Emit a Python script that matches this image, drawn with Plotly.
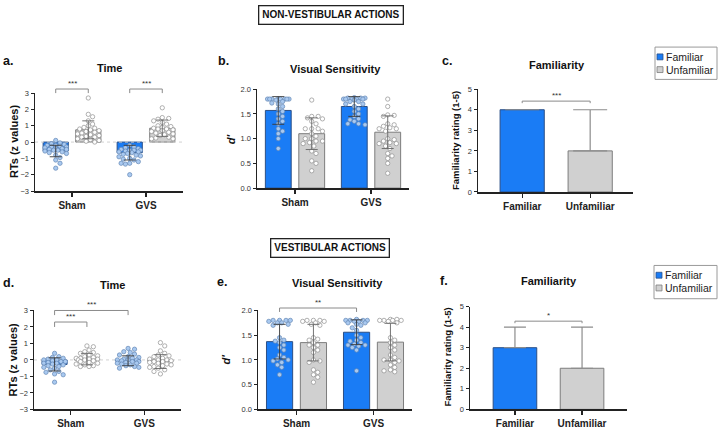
import plotly.graph_objects as go

W, H = 719, 432
FONT = "Arial, Liberation Sans, Helvetica, sans-serif"

conditions = ["Sham", "GVS"]
familiarity_groups = ["Familiar", "Unfamiliar"]

# ---------------- a. NON-VESTIBULAR - Time (RTs, z values) ----------------
a_fam_sham = [0.1, -0.05, -0.1, -0.15, -0.2, -0.2, -0.25, -0.3, -0.3, -0.35, -0.4, -0.4,
              -0.45, -0.45, -0.5, -0.5, -0.55, -0.6, -0.65, -0.7, -0.8, -0.95, -1.1, -1.3, -1.6]
a_unf_sham = [2.7, 1.7, 1.55, 1.3, 1.1, 1.0, 0.9, 0.85, 0.8, 0.75, 0.7, 0.65, 0.6, 0.55,
              0.5, 0.45, 0.4, 0.35, 0.3, 0.3, 0.2, 0.15, 0.1, 0.05, 0.0]
a_fam_gvs = [-0.2, -0.3, -0.35, -0.4, -0.45, -0.5, -0.5, -0.5, -0.55, -0.6, -0.6, -0.65,
             -0.7, -0.75, -0.8, -0.85, -0.9, -1.0, -1.05, -1.1, -1.2, -1.3, -1.3, -1.35, -2.0]
a_unf_gvs = [2.1, 1.5, 1.45, 1.4, 1.3, 1.2, 1.1, 1.0, 0.95, 0.9, 0.85, 0.8, 0.8, 0.75, 0.7,
             0.65, 0.6, 0.55, 0.5, 0.45, 0.4, 0.3, 0.25, 0.2, 0.2]
a_fam_mean = [-0.55, -0.65]
a_fam_sd = [0.35, 0.45]
a_unf_mean = [0.75, 0.85]
a_unf_sd = [0.55, 0.5]

# ---------------- b. NON-VESTIBULAR - Visual Sensitivity (d') ----------------
b_fam_sham = [1.8, 1.8, 1.8, 1.8, 1.8, 1.8, 1.8, 1.8, 1.78, 1.75, 1.72, 1.7, 1.65, 1.6,
              1.55, 1.5, 1.45, 1.4, 1.35, 1.3, 1.2, 1.15, 1.1, 1.0, 0.8]
b_unf_sham = [1.78, 1.45, 1.45, 1.42, 1.4, 1.35, 1.3, 1.2, 1.2, 1.2, 1.15, 1.1, 1.05, 1.0,
              1.0, 0.95, 0.95, 0.92, 0.9, 0.85, 0.75, 0.7, 0.55, 0.5, 0.35]
b_fam_gvs = [1.83, 1.82, 1.82, 1.82, 1.8, 1.8, 1.8, 1.8, 1.8, 1.78, 1.75, 1.75, 1.7, 1.7,
             1.65, 1.6, 1.55, 1.5, 1.45, 1.4, 1.38, 1.35, 1.3, 1.3, 1.28]
b_unf_gvs = [1.8, 1.65, 1.48, 1.47, 1.45, 1.3, 1.28, 1.25, 1.22, 1.2, 1.2, 1.15, 1.0, 0.98,
             0.95, 0.92, 0.9, 0.9, 0.85, 0.8, 0.7, 0.65, 0.6, 0.5, 0.3]
b_fam_mean = [1.57, 1.65]
b_fam_sd = [0.28, 0.2]
b_unf_mean = [1.1, 1.13]
b_unf_sd = [0.32, 0.33]

# ---------------- c. NON-VESTIBULAR - Familiarity rating ----------------
c_median = [4, 2]
c_err_up = [0, 2]

# ---------------- d. VESTIBULAR - Time (RTs, z values) ----------------
d_fam_sham = [0.4, 0.2, 0.15, 0.1, 0.05, 0.0, 0.0, -0.05, -0.1, -0.1, -0.15, -0.2, -0.2,
              -0.25, -0.3, -0.35, -0.4, -0.45, -0.5, -0.6, -0.7, -0.75, -0.85, -0.9, -1.35]
d_unf_sham = [0.85, 0.8, 0.6, 0.5, 0.45, 0.4, 0.3, 0.25, 0.2, 0.15, 0.1, 0.1, 0.05, 0.05,
              0.0, 0.0, -0.05, -0.1, -0.15, -0.2, -0.25, -0.3, -0.35, -0.4, -0.4]
d_fam_gvs = [0.7, 0.65, 0.5, 0.45, 0.35, 0.3, 0.2, 0.15, 0.1, 0.05, 0.0, 0.0, 0.0, -0.05,
             -0.1, -0.1, -0.15, -0.2, -0.2, -0.25, -0.3, -0.35, -0.4, -0.45, -0.5]
d_unf_gvs = [1.05, 0.85, 0.55, 0.4, 0.3, 0.25, 0.2, 0.1, 0.05, 0.0, 0.0, -0.05, -0.1, -0.1,
             -0.15, -0.2, -0.25, -0.3, -0.35, -0.4, -0.45, -0.5, -0.6, -0.7, -0.85]
d_fam_mean = [-0.27, -0.05]
d_fam_sd = [0.4, 0.3]
d_unf_mean = [0.05, -0.1]
d_unf_sd = [0.35, 0.42]

# ---------------- e. VESTIBULAR - Visual Sensitivity (d') ----------------
e_fam_sham = [1.8, 1.8, 1.8, 1.8, 1.78, 1.75, 1.75, 1.72, 1.7, 1.45, 1.4, 1.38, 1.35, 1.3,
              1.25, 1.2, 1.1, 1.05, 1.02, 1.0, 0.98, 0.95, 0.9, 0.85, 0.7]
e_unf_sham = [1.8, 1.8, 1.8, 1.78, 1.78, 1.75, 1.72, 1.7, 1.45, 1.42, 1.4, 1.35, 1.3, 1.3,
              1.25, 1.2, 1.15, 1.0, 0.98, 0.95, 0.8, 0.75, 0.7, 0.65, 0.55]
e_fam_gvs = [1.82, 1.8, 1.8, 1.8, 1.8, 1.78, 1.78, 1.75, 1.75, 1.72, 1.7, 1.65, 1.6, 1.5,
             1.45, 1.4, 1.38, 1.35, 1.32, 1.3, 1.3, 1.28, 1.25, 1.2, 0.78]
e_unf_gvs = [1.82, 1.82, 1.8, 1.8, 1.8, 1.8, 1.78, 1.75, 1.45, 1.4, 1.35, 1.3, 1.25, 1.2,
             1.1, 1.05, 1.0, 1.0, 0.98, 0.95, 0.9, 0.85, 0.8, 0.78, 0.76]
e_fam_mean = [1.37, 1.56]
e_fam_sd = [0.35, 0.25]
e_unf_mean = [1.35, 1.36]
e_unf_sd = [0.37, 0.38]

# ---------------- f. VESTIBULAR - Familiarity rating ----------------
f_median = [3, 2]
f_err_up = [1, 2]

# ---------------- styling ----------------
FAM_FILL, FAM_LINE = "#1a7cf5", "#2b4f86"
UNF_FILL, UNF_LINE = "#d0d0d0", "#7c7c7c"
FAM_PT, FAM_PT_LINE = "#a9c9f0", "#6386b5"
UNF_PT, UNF_PT_LINE = "#ffffff", "#8f8f8f"

# panel boxes in pixels: (left, right, top, bottom)
PANELS = {
    "a": dict(ax="", box=(35, 183, 91, 191), xr=(-0.5, 1.5), yr=(-3, 3)),
    "b": dict(ax="2", box=(257, 409, 87, 188), xr=(-0.5, 1.5), yr=(0, 2)),
    "c": dict(ax="3", box=(478, 633, 87, 192), xr=(-0.65, 1.63), yr=(0, 5)),
    "d": dict(ax="4", box=(34, 181, 313, 414), xr=(-0.5, 1.5), yr=(-3, 3)),
    "e": dict(ax="5", box=(258, 412, 313, 414), xr=(-0.5, 1.5), yr=(0, 2)),
    "f": dict(ax="6", box=(470, 627, 309, 414), xr=(-0.67, 1.67), yr=(0, 5)),
}
OFF = 0.22
BW = 0.34
PT = 4.3

fig = go.Figure()
shapes = []
annotations = []


def refs(p):
    return "x" + PANELS[p]["ax"], "y" + PANELS[p]["ax"]


def scale(p):
    P = PANELS[p]
    l, r, t, b = P["box"]
    sx = (r - l) / (P["xr"][1] - P["xr"][0])
    sy = (b - t) / (P["yr"][1] - P["yr"][0])
    return sx, sy


def yfrac(p, v):
    y0, y1 = PANELS[p]["yr"]
    return (v - y0) / (y1 - y0)


def swarm(values, sx, sy, diam=PT, maxoff=11.5):
    """Deterministic beeswarm layout: horizontal offsets (axis units) avoiding overlap."""
    n = len(values)
    order = sorted(range(n), key=lambda i: -values[i])
    placed = []
    offs = [0.0] * n
    step = diam * 0.5
    cands = [0.0]
    k = 1
    while k * step <= maxoff:
        cands += [k * step, -k * step]
        k += 1
    for i in order:
        y = values[i] * sy
        best, best_d = None, -1
        for c in cands:
            dmin = min([((c - px) ** 2 + (y - py) ** 2) ** 0.5 for px, py in placed] or [99])
            if dmin >= diam * 1.05:
                best = c
                break
            if dmin > best_d:
                best, best_d = c, dmin
        placed.append((best, y))
        offs[i] = best / sx
    return offs


def bar_panel(p, fam_sets, unf_sets, fam_mean, fam_sd, unf_mean, unf_sd, zero_line):
    xa, ya = refs(p)
    sx, sy = scale(p)
    xr = PANELS[p]["xr"]
    if zero_line:
        fig.add_trace(go.Scatter(x=[xr[0], xr[1]], y=[0, 0], mode="lines",
                                 line=dict(color="#d2d2d2", width=1, dash="dot"),
                                 xaxis=xa, yaxis=ya, showlegend=False, hoverinfo="skip"))
    xf = [i - OFF for i in range(len(conditions))]
    xu = [i + OFF for i in range(len(conditions))]
    fig.add_trace(go.Bar(x=xf, y=fam_mean, width=BW, name="Familiar",
                         marker=dict(color=FAM_FILL, line=dict(color=FAM_LINE, width=1)),
                         xaxis=xa, yaxis=ya, showlegend=False))
    fig.add_trace(go.Bar(x=xu, y=unf_mean, width=BW, name="Unfamiliar",
                         marker=dict(color=UNF_FILL, line=dict(color=UNF_LINE, width=1)),
                         xaxis=xa, yaxis=ya, showlegend=False))
    for gi, vals in enumerate(fam_sets):
        offs = swarm(vals, sx, sy)
        fig.add_trace(go.Scatter(x=[gi - OFF + o for o in offs], y=vals, mode="markers",
                                 marker=dict(size=PT, color=FAM_PT, line=dict(color=FAM_PT_LINE, width=0.7)),
                                 xaxis=xa, yaxis=ya, showlegend=False, cliponaxis=False))
    for gi, vals in enumerate(unf_sets):
        offs = swarm(vals, sx, sy)
        fig.add_trace(go.Scatter(x=[gi + OFF + o for o in offs], y=vals, mode="markers",
                                 marker=dict(size=PT, color=UNF_PT, line=dict(color=UNF_PT_LINE, width=0.7)),
                                 xaxis=xa, yaxis=ya, showlegend=False, cliponaxis=False))
    fig.add_trace(go.Scatter(x=xf, y=fam_mean, mode="markers", marker=dict(size=1, color="rgba(0,0,0,0)"),
                             error_y=dict(type="data", array=fam_sd, color="#3a3a3a", thickness=0.9, width=6),
                             xaxis=xa, yaxis=ya, showlegend=False, hoverinfo="skip"))
    fig.add_trace(go.Scatter(x=xu, y=unf_mean, mode="markers", marker=dict(size=1, color="rgba(0,0,0,0)"),
                             error_y=dict(type="data", array=unf_sd, color="#666666", thickness=0.9, width=6),
                             xaxis=xa, yaxis=ya, showlegend=False, hoverinfo="skip"))


def rating_panel(p, med, err_up, capw):
    xa, ya = refs(p)
    xs = list(range(len(familiarity_groups)))
    fig.add_trace(go.Bar(x=xs, y=med, width=0.65,
                         marker=dict(color=[FAM_FILL, UNF_FILL], line=dict(color=[FAM_LINE, UNF_LINE], width=1)),
                         error_y=dict(type="data", array=err_up, arrayminus=[0] * len(err_up), symmetric=False,
                                      color="#8c8c8c", thickness=1.2, width=capw),
                         xaxis=xa, yaxis=ya, showlegend=False))


def bracket(p, x0, x1, yline, ytick, text):
    xa, ya = refs(p)
    yl, yt = yfrac(p, yline), yfrac(p, ytick)
    kw = dict(type="line", xref=xa, yref=ya + " domain", line=dict(color="#8a8a8a", width=1))
    shapes.append(dict(kw, x0=x0, x1=x1, y0=yl, y1=yl))
    shapes.append(dict(kw, x0=x0, x1=x0, y0=yl, y1=yt))
    shapes.append(dict(kw, x0=x1, x1=x1, y0=yl, y1=yt))
    annotations.append(dict(x=(x0 + x1) / 2, y=yl, xref=xa, yref=ya + " domain", text=text,
                            showarrow=False, yanchor="bottom", yshift=-1,
                            font=dict(family=FONT, size=8, color="#333333")))


# ---- build panels ----
bar_panel("a", [a_fam_sham, a_fam_gvs], [a_unf_sham, a_unf_gvs], a_fam_mean, a_fam_sd, a_unf_mean, a_unf_sd, True)
bar_panel("b", [b_fam_sham, b_fam_gvs], [b_unf_sham, b_unf_gvs], b_fam_mean, b_fam_sd, b_unf_mean, b_unf_sd, False)
rating_panel("c", c_median, c_err_up, 17)
bar_panel("d", [d_fam_sham, d_fam_gvs], [d_unf_sham, d_unf_gvs], d_fam_mean, d_fam_sd, d_unf_mean, d_unf_sd, True)
bar_panel("e", [e_fam_sham, e_fam_gvs], [e_unf_sham, e_unf_gvs], e_fam_mean, e_fam_sd, e_unf_mean, e_unf_sd, False)
rating_panel("f", f_median, f_err_up, 11)

bracket("a", -OFF, OFF, 3.25, 3.0, "***")
bracket("a", 1 - OFF, 1 + OFF, 3.25, 3.0, "***")
bracket("c", 0, 1, 4.42, 4.32, "***")
bracket("d", -OFF, OFF, 2.3, 2.0, "***")
bracket("d", -OFF, 1 - OFF, 3.0, 2.72, "***")
bracket("e", -OFF, 1 - OFF, 2.05, 1.97, "**")
bracket("f", 0, 1, 4.29, 4.19, "*")

# ---- axes ----
layout_axes = {}
ytick_sets = {
    "a": ([-3, -2, -1, 0, 1, 2, 3], None),
    "b": ([0, 0.5, 1.0, 1.5, 2.0], ".1f"),
    "c": ([0, 1, 2, 3, 4, 5], None),
    "d": ([-3, -2, -1, 0, 1, 2, 3], None),
    "e": ([0, 0.5, 1.0, 1.5, 2.0], ".1f"),
    "f": ([0, 1, 2, 3, 4, 5], None),
}
for p, P in PANELS.items():
    l, r, t, b = P["box"]
    ax = P["ax"]
    cats = familiarity_groups if p in ("c", "f") else conditions
    layout_axes["xaxis" + ax] = dict(
        domain=[l / W, r / W], range=list(P["xr"]), anchor="y" + ax,
        tickvals=list(range(len(cats))), ticktext=["<b>%s</b>" % c for c in cats],
        ticks="outside", ticklen=4, tickwidth=1.3, tickcolor="#222",
        showline=True, linewidth=1.5, linecolor="#222", showgrid=False, zeroline=False,
        tickfont=dict(family=FONT, size=10, color="#222"), fixedrange=True)
    tv, fmt = ytick_sets[p]
    yd = dict(
        domain=[1 - b / H, 1 - t / H], range=list(P["yr"]), anchor="x" + ax,
        tickvals=tv, ticks="outside", ticklen=3, tickwidth=1, tickcolor="#222",
        showline=True, linewidth=1.5, linecolor="#222", showgrid=False, zeroline=False,
        tickfont=dict(family=FONT, size=7.5, color="#333"), fixedrange=True)
    if fmt:
        yd["tickformat"] = fmt
    layout_axes["yaxis" + ax] = yd


def ann(text, x, y, size, angle=0, **kw):
    annotations.append(dict(text=text, x=x / W, y=1 - y / H, xref="paper", yref="paper",
                            showarrow=False, textangle=angle, xanchor="center", yanchor="middle",
                            font=dict(family=FONT, size=size, color="#111"), **kw))


# section headers
ann("<b>NON-VESTIBULAR ACTIONS</b>", 331, 11.5, 10, bordercolor="#222", borderwidth=1.3, borderpad=3)
ann("<b>VESTIBULAR ACTIONS</b>", 330, 249, 10, bordercolor="#222", borderwidth=1.3, borderpad=3)

# panel letters and titles
for letter, (lx, ly), title, (tx, ty) in [
    ("a.", (8, 58), "Time", (110, 65)),
    ("b.", (223, 58), "Visual Sensitivity", (335, 66)),
    ("c.", (447, 58), "Familiarity", (557, 62)),
    ("d.", (8, 285), "Time", (112, 287)),
    ("e.", (222, 284), "Visual Sensitivity", (337, 285)),
    ("f.", (444, 283), "Familiarity", (549, 283)),
]:
    ann("<b>%s</b>" % letter, lx, ly, 12.5)
    ann("<b>%s</b>" % title, tx, ty, 11)

# y-axis titles
ann("<b>RTs (z values)</b>", 14, 141, 11, angle=-90)
ann("<b><i>d'</i></b>", 231, 138, 11, angle=-90)
ann("<b>Familiarity rating (1-5)</b>", 455, 140, 9.5, angle=-90)
ann("<b>RTs (z values)</b>", 13, 364, 11, angle=-90)
ann("<b><i>d'</i></b>", 226, 363, 11, angle=-90)
ann("<b>Familiarity rating (1-5)</b>", 447, 361, 9.5, angle=-90)

# manual legends (Familiar / Unfamiliar)
for (bx0, by0, bx1, by1) in [(655, 44, 717, 77), (654, 267, 717, 301)]:
    shapes.append(dict(type="rect", xref="paper", yref="paper", x0=bx0 / W, x1=bx1 / W,
                       y0=1 - by1 / H, y1=1 - by0 / H, line=dict(color="#9a9a9a", width=1),
                       fillcolor="white", layer="below"))
    rows = [(by0 + 10, familiarity_groups[0], FAM_FILL, FAM_LINE),
            (by0 + 23, familiarity_groups[1], UNF_FILL, UNF_LINE)]
    for cy, label, fill, line in rows:
        shapes.append(dict(type="rect", xref="paper", yref="paper", x0=(bx0 + 2) / W, x1=(bx0 + 8) / W,
                           y0=1 - (cy + 3) / H, y1=1 - (cy - 3) / H, fillcolor=fill,
                           line=dict(color=line, width=0.8)))
        annotations.append(dict(text=label, x=(bx0 + 9) / W, y=1 - cy / H, xref="paper", yref="paper",
                                showarrow=False, xanchor="left", yanchor="middle",
                                font=dict(family=FONT, size=10.5, color="#222")))

fig.update_layout(
    width=W, height=H, margin=dict(l=0, r=0, t=0, b=0),
    paper_bgcolor="white", plot_bgcolor="white",
    barmode="overlay", bargap=0,
    font=dict(family=FONT, color="#222"),
    shapes=shapes, annotations=annotations, showlegend=False,
    **layout_axes,
)

fig.write_html("out.html", config={"displayModeBar": False, "staticPlot": True},
               post_script="document.body.style.margin='0px';document.body.style.overflow='hidden';")
